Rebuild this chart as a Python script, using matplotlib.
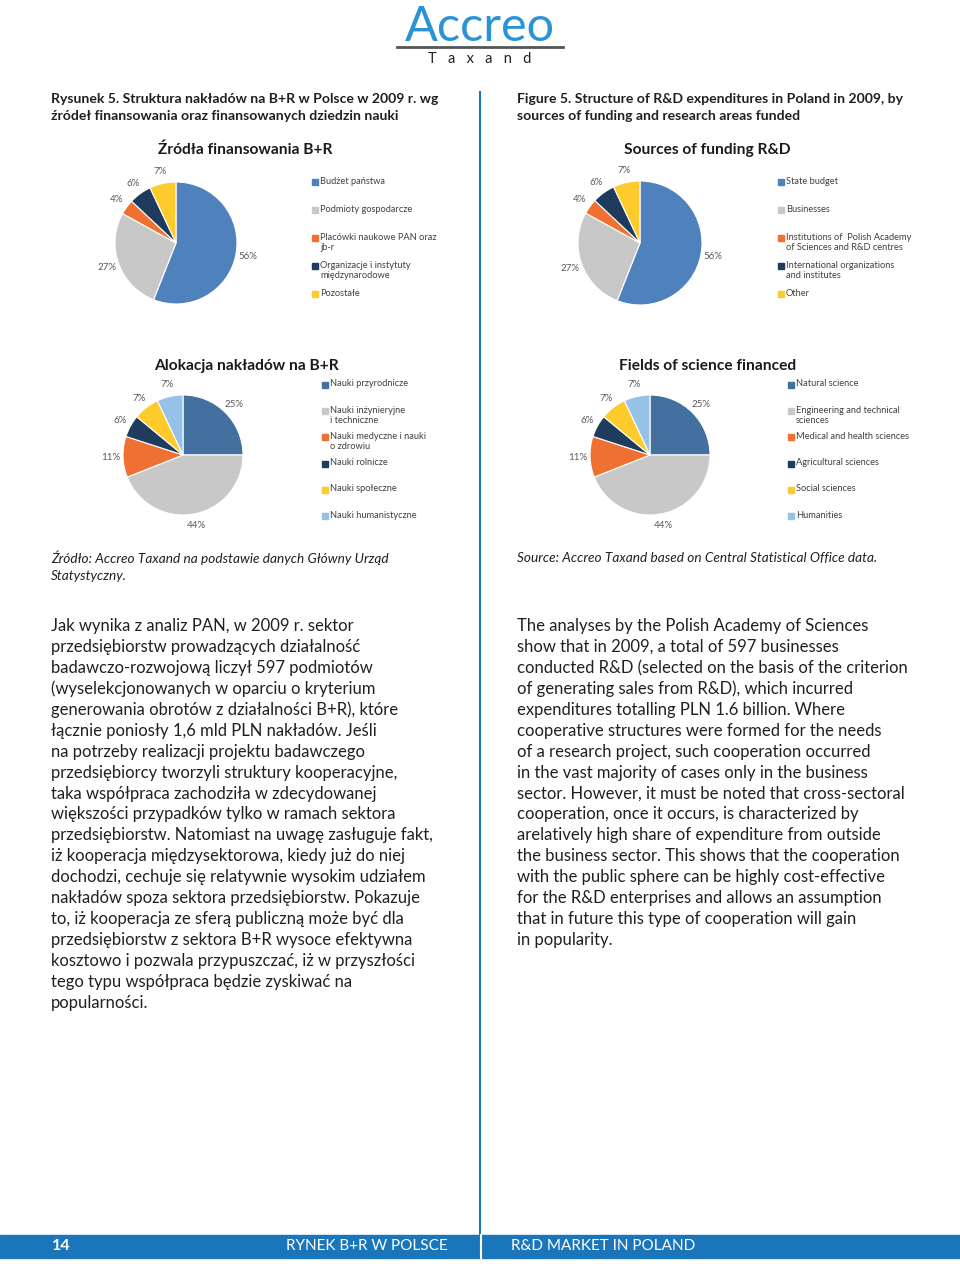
import matplotlib.pyplot as plt
from matplotlib.patches import Rectangle

plt.rcParams['font.family'] = ['Lato', 'DejaVu Sans']

# --- data ---
funding_vals = [56, 27, 4, 6, 7]
funding_colors = ['#4f81bd', '#c8c8c8', '#f07031', '#1f3b5e', '#fdcb2c']
funding_labels_pl = ['Budżet państwa', 'Podmioty gospodarcze',
                     'Placówki naukowe PAN oraz\njb-r',
                     'Organizacje i instytuty\nmiędzynarodowe', 'Pozostałe']
funding_labels_en = ['State budget', 'Businesses',
                     'Institutions of  Polish Academy\nof Sciences and R&D centres',
                     'International organizations\nand institutes', 'Other']

fields_vals = [25, 44, 11, 6, 7, 7]
fields_colors = ['#44709f', '#c8c8c8', '#f07031', '#1f3b5e', '#fdcb2c', '#95c2e6']
fields_labels_pl = ['Nauki przyrodnicze', 'Nauki inżynieryjne\ni techniczne',
                    'Nauki medyczne i nauki\no zdrowiu', 'Nauki rolnicze',
                    'Nauki społeczne', 'Nauki humanistyczne']
fields_labels_en = ['Natural science', 'Engineering and technical\nsciences',
                    'Medical and health sciences', 'Agricultural sciences',
                    'Social sciences', 'Humanities']

body_pl = [
    "Jak wynika z analiz PAN, w 2009 r. sektor",
    "przedsiębiorstw prowadzących działalność",
    "badawczo-rozwojową liczył 597 podmiotów",
    "(wyselekcjonowanych w oparciu o kryterium",
    "generowania obrotów z działalności B+R), które",
    "łącznie poniosły 1,6 mld PLN nakładów. Jeśli",
    "na potrzeby realizacji projektu badawczego",
    "przedsiębiorcy tworzyli struktury kooperacyjne,",
    "taka współpraca zachodziła w zdecydowanej",
    "większości przypadków tylko w ramach sektora",
    "przedsiębiorstw. Natomiast na uwagę zasługuje fakt,",
    "iż kooperacja międzysektorowa, kiedy już do niej",
    "dochodzi, cechuje się relatywnie wysokim udziałem",
    "nakładów spoza sektora przedsiębiorstw. Pokazuje",
    "to, iż kooperacja ze sferą publiczną może być dla",
    "przedsiębiorstw z sektora B+R wysoce efektywna",
    "kosztowo i pozwala przypuszczać, iż w przyszłości",
    "tego typu współpraca będzie zyskiwać na",
    "popularności.",
]
body_en = [
    "The analyses by the Polish Academy of Sciences",
    "show that in 2009, a total of 597 businesses",
    "conducted R&D (selected on the basis of the criterion",
    "of generating sales from R&D), which incurred",
    "expenditures totalling PLN 1.6 billion. Where",
    "cooperative structures were formed for the needs",
    "of a research project, such cooperation occurred",
    "in the vast majority of cases only in the business",
    "sector. However, it must be noted that cross-sectoral",
    "cooperation, once it occurs, is characterized by",
    "arelatively high share of expenditure from outside",
    "the business sector. This shows that the cooperation",
    "with the public sphere can be highly cost-effective",
    "for the R&D enterprises and allows an assumption",
    "that in future this type of cooperation will gain",
    "in popularity.",
]

W, H = 960, 1264
BLUE = '#1b75bb'
TXT = '#231f20'

fig = plt.figure(figsize=(W / 100, H / 100), dpi=100)
bg = fig.add_axes([0, 0, 1, 1])
bg.set_xlim(0, W)
bg.set_ylim(H, 0)
bg.axis('off')


def px_axes(cx, cy, size):
    return fig.add_axes([(cx - size / 2) / W, 1 - (cy + size / 2) / H, size / W, size / H])


def pie_block(cx, cy, r, vals, colors, title, tx, ty, labels, lx, ly0, step):
    L = 1.6
    ax = px_axes(cx, cy, 2 * L * r)
    ax.pie(vals, colors=colors, startangle=90, counterclock=False, radius=1,
           autopct='%.0f%%', pctdistance=1.2,
           wedgeprops=dict(edgecolor='white', linewidth=0.8),
           textprops=dict(fontsize=7, color='#595959'))
    ax.set_xlim(-L, L)
    ax.set_ylim(-L, L)
    ax.axis('off')
    bg.text(tx, ty, title, ha='center', va='center', fontsize=11.2,
            fontweight='bold', color='#1a1a1a')
    for i, (lab, col) in enumerate(zip(labels, colors)):
        y = ly0 + i * step
        bg.add_patch(Rectangle((lx, y - 3), 6, 6, color=col))
        bg.text(lx + 8, y - 5.5, lab, ha='left', va='top', fontsize=6.7,
                color='#404040', linespacing=1.2)


# --- logo ---
bg.text(480, 27, 'Accreo', ha='center', va='center', fontsize=35,
        color='#2a93d8')
bg.plot([397, 563], [47, 47], color='#555555', lw=2)
bg.text(480, 59, 'T   a   x   a   n   d', ha='center', va='center', fontsize=10.5,
        color='#222222')

# --- column divider ---
bg.plot([480, 480], [92, 1235], color=BLUE, lw=1.5)

# --- headings ---
hd = dict(ha='left', va='center', fontsize=10.1, fontweight='bold', color=TXT)
bg.text(51, 99, 'Rysunek 5. Struktura nakładów na B+R w Polsce w 2009 r. wg', **hd)
bg.text(51, 116, 'źródeł finansowania oraz finansowanych dziedzin nauki', **hd)
bg.text(517, 99, 'Figure 5. Structure of R&D expenditures in Poland in 2009, by', **hd)
bg.text(517, 116, 'sources of funding and research areas funded', **hd)

# --- pies ---
pie_block(176, 243, 61, funding_vals, funding_colors, 'Źródła finansowania B+R',
          245, 150, funding_labels_pl, 312, 182, 28)
pie_block(640, 243, 62, funding_vals, funding_colors, 'Sources of funding R&D',
          707, 150, funding_labels_en, 778, 182, 28)
pie_block(183, 455, 60, fields_vals, fields_colors, 'Alokacja nakładów na B+R',
          246, 366, fields_labels_pl, 322, 385, 26.2)
pie_block(650, 455, 60, fields_vals, fields_colors, 'Fields of science financed',
          708, 366, fields_labels_en, 788, 385, 26.2)

# --- sources ---
src = dict(ha='left', va='center', fontsize=9.8, style='italic', color=TXT)
bg.text(51, 558, 'Źródło: Accreo Taxand na podstawie danych Główny Urząd', **src)
bg.text(51, 576, 'Statystyczny.', **src)
bg.text(517, 558, 'Source: Accreo Taxand based on Central Statistical Office data.', **src)

# --- body text ---
for i, line in enumerate(body_pl):
    bg.text(51, 626 + i * 20.94, line, ha='left', va='center', fontsize=12, color=TXT)
for i, line in enumerate(body_en):
    bg.text(517, 626 + i * 20.94, line, ha='left', va='center', fontsize=12, color=TXT)

# --- footer ---
bg.add_patch(Rectangle((0, 1235), W, 23, color=BLUE))
bg.plot([481, 481], [1235, 1258], color='white', lw=1.5)
bg.text(52, 1246, '14', ha='left', va='center', fontsize=11.5, fontweight='bold',
        color='white')
bg.text(448, 1246, 'RYNEK B+R W POLSCE', ha='right', va='center', fontsize=11,
        color='white')
bg.text(511, 1246, 'R&D MARKET IN POLAND', ha='left', va='center', fontsize=11,
        color='white')

fig.savefig('out.png', dpi=100)
